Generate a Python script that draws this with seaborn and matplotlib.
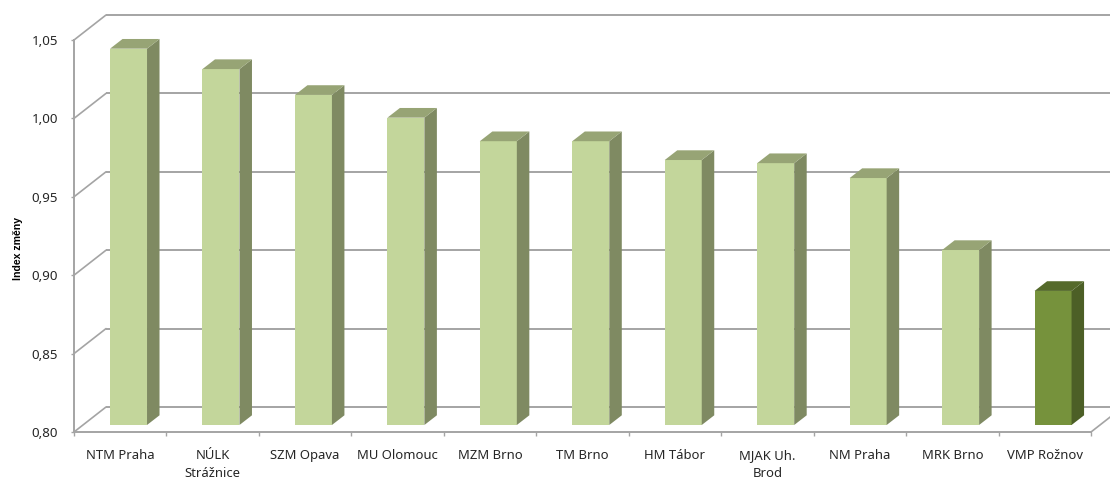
import matplotlib
matplotlib.use("Agg")
import matplotlib.pyplot as plt
import numpy as np
import pandas as pd
import seaborn as sns
from matplotlib.lines import Line2D
from matplotlib.patches import Polygon
from matplotlib.transforms import Affine2D, IdentityTransform

# values
muzea = ['NTM Praha', 'NÚLK\nStrážnice', 'SZM Opava', 'MU Olomouc', 'MZM Brno', 'TM Brno',
         'HM Tábor', 'MJAK Uh.\nBrod', 'NM Praha', 'MRK Brno', 'VMP Rožnov']
index_zmeny = [1.040, 1.027, 1.0105, 0.996, 0.981, 0.981, 0.969, 0.967, 0.9575, 0.9116, 0.8855]
y_ticks = [0.80, 0.85, 0.90, 0.95, 1.00, 1.05]
y_labels = ['0,80', '0,85', '0,90', '0,95', '1,00', '1,05']

GRID = '#A4A4A4'
FRONT = '#C3D69B'
SIDE = '#7F8A62'
TOP = '#97A475'
FRONT_HI = '#76923C'
SIDE_HI = '#4C5F26'
TOP_HI = '#556A2B'

sns.set_style('white')
plt.rcParams['font.family'] = ['Noto Sans', 'DejaVu Sans']

df = pd.DataFrame({'muzeum': muzea, 'index': index_zmeny})

fig = plt.figure(figsize=(11.1, 4.8), dpi=100)
ax = fig.add_axes([74 / 1110, 48 / 480, 1017 / 1110, 392 / 480])
ax.patch.set_alpha(0)

colors = [FRONT] * (len(muzea) - 1) + [FRONT_HI]
sns.barplot(data=df, x='muzeum', y='index', hue='muzeum', palette=colors, legend=False,
            width=0.40, saturation=1, ax=ax, zorder=3)
ax.set_xlim(-0.5, len(muzea) - 0.5)
ax.set_ylim(0.80, 1.05)

# back wall and floor of the fake 3D box, offsets in pixels
wall_dx, wall_dy = 32, 25
wall = ax.transData + Affine2D().translate(wall_dx, wall_dy)
ax.hlines(y_ticks, -0.5, len(muzea) - 0.5, color=GRID, lw=1.4, transform=wall, clip_on=False, zorder=1)
for y in y_ticks:
    x0, y0 = ax.transData.transform((-0.5, y))
    fig.add_artist(Line2D([x0, x0 + wall_dx], [y0, y0 + wall_dy], color=GRID, lw=1.2,
                          transform=IdentityTransform(), zorder=0))
x0, y0 = ax.transData.transform((len(muzea) - 0.5, 0.80))
fig.add_artist(Line2D([x0, x0 + wall_dx], [y0, y0 + wall_dy], color=GRID, lw=1.2,
                      transform=IdentityTransform(), zorder=0))

# bars stand in the middle of the floor, side and top faces added to each one
bar_dx, bar_dy = 8.3, 7
depth_x, depth_y = 12.5, 9.7
shift = ax.transData + Affine2D().translate(bar_dx, bar_dy)
for i, (patch, v) in enumerate(zip(ax.patches, index_zmeny)):
    patch.set_y(0.80)
    patch.set_height(v - 0.80)
    patch.set_transform(shift)
    patch.set_clip_on(False)
    patch.set_linewidth(0)
    hi = i == len(muzea) - 1
    left = patch.get_x()
    (xl, yb), (xr, yt) = shift.transform([(left, 0.80), (left + patch.get_width(), v)])
    side = [(xr, yb), (xr + depth_x, yb + depth_y), (xr + depth_x, yt + depth_y), (xr, yt)]
    top = [(xl, yt), (xl + depth_x, yt + depth_y), (xr + depth_x, yt + depth_y), (xr, yt)]
    ax.add_patch(Polygon(side, closed=True, fc=SIDE_HI if hi else SIDE, lw=0,
                         transform=IdentityTransform(), clip_on=False, zorder=3))
    ax.add_patch(Polygon(top, closed=True, fc=TOP_HI if hi else TOP, lw=0,
                         transform=IdentityTransform(), clip_on=False, zorder=3))

sns.despine(ax=ax)
for s in ['left', 'bottom']:
    ax.spines[s].set_color(GRID)
    ax.spines[s].set_linewidth(1.4)

ax.set_yticks(y_ticks, y_labels)
ax.set_xticks(range(len(muzea)), muzea, linespacing=1.5)
ax.set_xticks(np.arange(-0.5, len(muzea)), minor=True)
ax.tick_params(axis='x', which='major', length=0, pad=12.5, labelsize=9.4, labelcolor='#262626')
ax.tick_params(axis='x', which='minor', length=3, width=1, color=GRID, bottom=True)
ax.tick_params(axis='y', length=2.5, width=1, color=GRID, left=True, pad=9, labelsize=9.6, labelcolor='#262626')
ax.set_xlabel('')
ax.set_ylabel('')
fig.text(18 / 1110, 1 - 248 / 480, 'Index změny', rotation=90, ha='center', va='center',
         fontsize=7.6, fontweight='bold', family=['Liberation Sans'], color='black')

fig.savefig('out.png', dpi=100)
